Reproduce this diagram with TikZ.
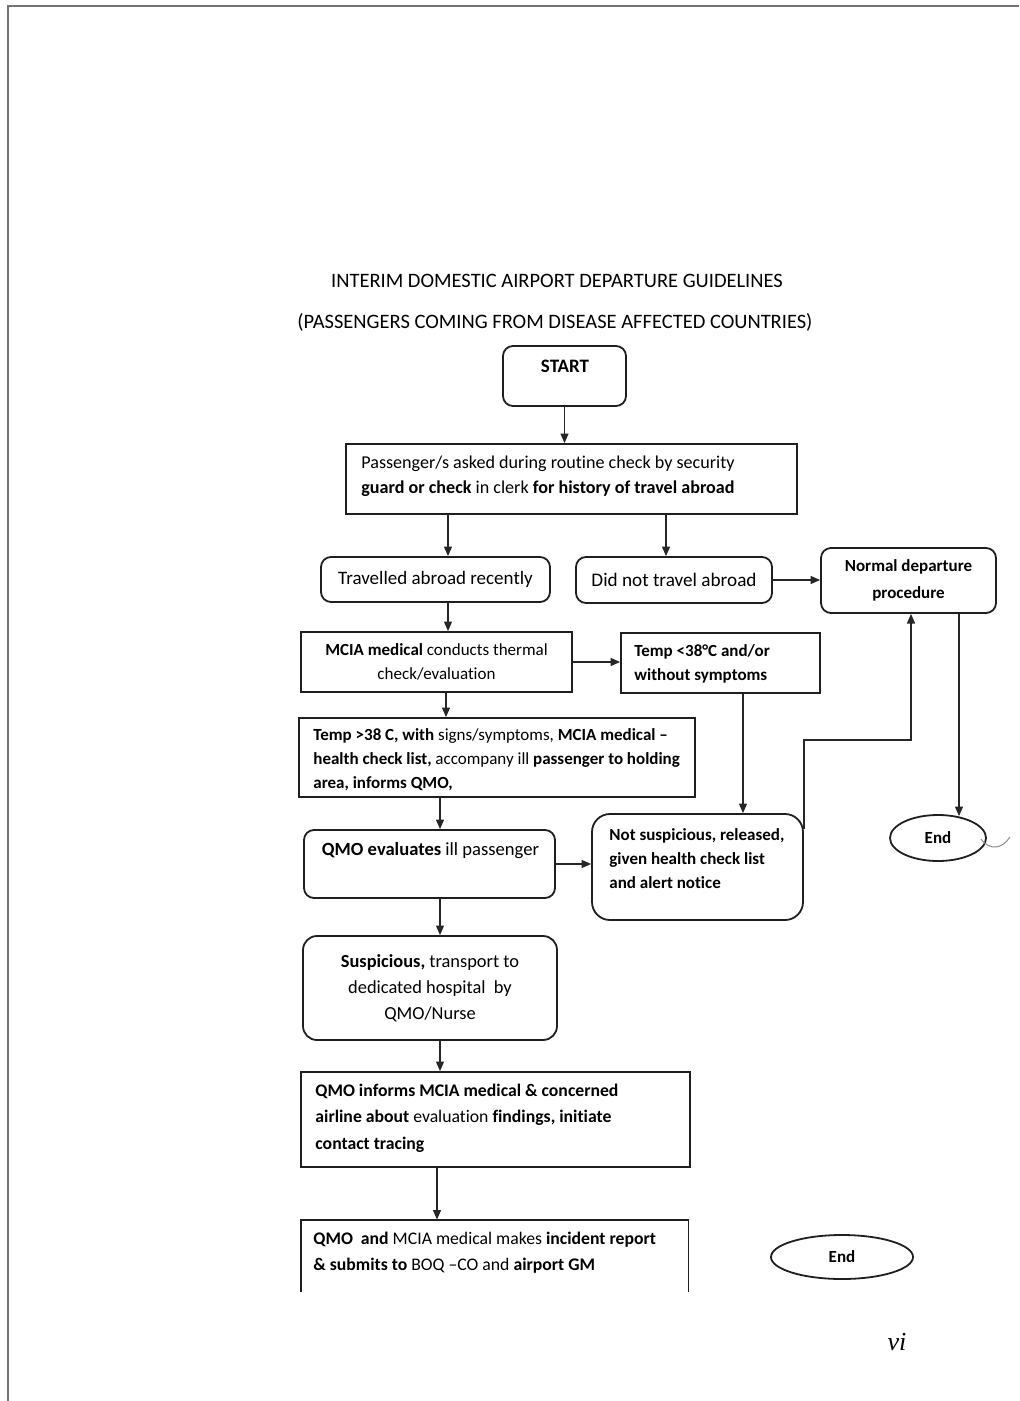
\documentclass[tikz,border=0pt]{standalone}
\usepackage{fontspec}
\setmainfont{Carlito}[Ligatures=NoCommon]
\newfontfamily\pagenumfont{Liberation Serif}
\usetikzlibrary{arrows.meta,shapes.geometric}
\newcommand\fs[2]{\fontsize{#1}{#2}\selectfont}

\begin{document}
\begin{tikzpicture}[x=0.5pt,y=-0.5pt,
  ink/.style={draw=black!88, line width=0.9pt},
  sqbox/.style={ink, rectangle, inner sep=0pt},
  rbox/.style={sqbox, rounded corners=5pt},
  txt/.style={inner sep=0pt, text=black},
  lefttxt/.style={txt, anchor=west, align=left},
  flow/.style={draw=black!85, line width=0.7pt, -{Triangle[length=4.8pt,width=4pt]}},
]
\useasboundingbox (0,0) rectangle (1019,1401);

% page frame
\draw[draw=black!55, line width=1pt] (8,1401) -- (8,6) -- (1019,6);

% heading
\node[txt, font=\fs{10.25}{12}] (title1) at (557,281) {INTERIM DOMESTIC AIRPORT DEPARTURE GUIDELINES};
\node[txt, font=\fs{10.25}{12}] (title2) at (555,322) {(PASSENGERS COMING FROM DISEASE AFFECTED COUNTRIES)};

% column guides for the vertical connectors
\coordinate (xA) at (448,0);
\coordinate (xB) at (666,0);
\coordinate (xC) at (446,0);
\coordinate (xD) at (440,0);
\coordinate (xE) at (743,0);
\coordinate (xF) at (959,0);
\coordinate (xG) at (437,0);
\coordinate (xI) at (911,0);
\coordinate (yH) at (0,740);

% steps
\node[rbox, minimum width=61.5pt, minimum height=30pt] (start) at (564.5,376) {};
\node[txt, font=\fs{9.5}{12}\bfseries] (startlabel) at (565,366) {START};

\node[sqbox, minimum width=225.5pt, minimum height=35pt] (ask) at (571.5,479) {};
\node[lefttxt, font=\fs{9.05}{12.5}] (asklabel) at (361,476)
  {Passenger/s asked during routine check by security\\\textbf{guard or check} in clerk \textbf{for history of travel abroad}};

\node[rbox, minimum width=114.5pt, minimum height=22.5pt, font=\fs{9.5}{12}] (abroad) at (435.5,579.5) {Travelled abroad recently};
\node[rbox, minimum width=98pt, minimum height=23pt, font=\fs{9.6}{12}] (stay) at (674,580) {Did not travel abroad};
\node[rbox, minimum width=87.5pt, minimum height=32.5pt, align=center, font=\fs{8.5}{13.5}\bfseries] (normal) at (908.5,580.5) {Normal departure\\procedure};

\node[sqbox, minimum width=135.5pt, minimum height=30pt, align=center, font=\fs{8.5}{12}] (thermal) at (436.5,662)
  {\textbf{MCIA medical} conducts thermal\\check/evaluation};

\node[sqbox, minimum width=99.5pt, minimum height=30pt] (below) at (720.5,663) {};
\node[lefttxt, font=\fs{8.5}{12}\bfseries] (belowlabel) at (634,664)
  {Temp <38°C and/or\\without symptoms};

\node[sqbox, minimum width=198pt, minimum height=39.5pt] (above) at (497,757.5) {};
\node[lefttxt, font=\fs{8.5}{12}] (abovelabel) at (313,760)
  {\textbf{Temp >38 C, with} signs/symptoms, \textbf{MCIA medical –}\\\textbf{health check list,} accompany ill \textbf{passenger to holding}\\\textbf{area, informs QMO,}};

\node[rbox, minimum width=125.5pt, minimum height=34pt] (evaluate) at (429.5,864) {};
\node[txt, font=\fs{9.3}{12}] (evaluatelabel) at (430.5,851) {\textbf{QMO evaluates} ill passenger};

\node[rbox, rounded corners=9pt, minimum width=105.5pt, minimum height=53pt] (release) at (697.5,867) {};
\node[lefttxt, font=\fs{8.5}{12}\bfseries] (releaselabel) at (609,859)
  {Not suspicious, released,\\given health check list\\and alert notice};

\node[rbox, rounded corners=7pt, minimum width=127pt, minimum height=52pt, align=center, font=\fs{9.2}{13}] (suspect) at (430,988)
  {\textbf{Suspicious,} transport to\\dedicated hospital~ by\\QMO/Nurse};

\node[sqbox, minimum width=194.5pt, minimum height=47.5pt] (inform) at (495.5,1119.5) {};
\node[lefttxt, font=\fs{8.85}{13.25}] (informlabel) at (315,1118)
  {\textbf{QMO informs MCIA medical \& concerned}\\\textbf{airline about} evaluation \textbf{findings, initiate}\\\textbf{contact tracing}};

% last step: the sheet cuts this box off below its text
\node[inner sep=0pt, minimum width=193.5pt, minimum height=36pt] (report) at (494.5,1256) {};
\draw[ink] (report.south west) -- (report.north west) -- (report.north east) -- (report.south east);
\node[lefttxt, font=\fs{8.85}{13}] (reportlabel) at (313,1253)
  {\textbf{QMO~ and} MCIA medical makes \textbf{incident report}\\\textbf{\& submits to} BOQ –CO and \textbf{airport GM}};

\node[ink, ellipse, minimum width=48pt, minimum height=23pt, inner sep=0pt, font=\fs{8.5}{12}\bfseries] (end1) at (938,838) {End};
\draw[black!45, line width=0.5pt] (981,839) .. controls (990,851) and (1002,849) .. (1010,837);
\node[ink, ellipse, minimum width=71pt, minimum height=22pt, inner sep=0pt, font=\fs{8.5}{12}\bfseries] (end2) at (842,1257) {End};

\node[txt, font=\pagenumfont\itshape\fs{13}{13}] (pagenum) at (897,1342) {vi};

% connectors
\draw[flow] (start.south) -- (start.south |- ask.north);
\draw[flow] (ask.south -| xA) -- (abroad.north -| xA);
\draw[flow] (ask.south -| xB) -- (stay.north -| xB);
\draw[flow] (stay.east) -- (normal.west |- stay.east);
\draw[flow] (abroad.south -| xA) -- (thermal.north -| xA);
\draw[flow] (thermal.east) -- (below.west |- thermal.east);
\draw[flow] (thermal.south -| xC) -- (above.north -| xC);
\draw[flow] (below.south -| xE) -- (release.north -| xE);
\draw[flow] (above.south -| xD) -- (evaluate.north -| xD);
\draw[flow] (evaluate.east) -- (release.west |- evaluate.east);
\draw[flow] ([yshift=-8pt]release.north east) -- (release.north east |- yH) -- (xI |- yH) -- (normal.south -| xI);
\draw[flow, shorten >=-1pt] (normal.south -| xF) -- (end1.north -| xF);
\draw[flow] (evaluate.south -| xD) -- (suspect.north -| xD);
\draw[flow] (suspect.south -| xD) -- (inform.north -| xD);
\draw[flow] (inform.south -| xG) -- (report.north -| xG);
\end{tikzpicture}
\end{document}
